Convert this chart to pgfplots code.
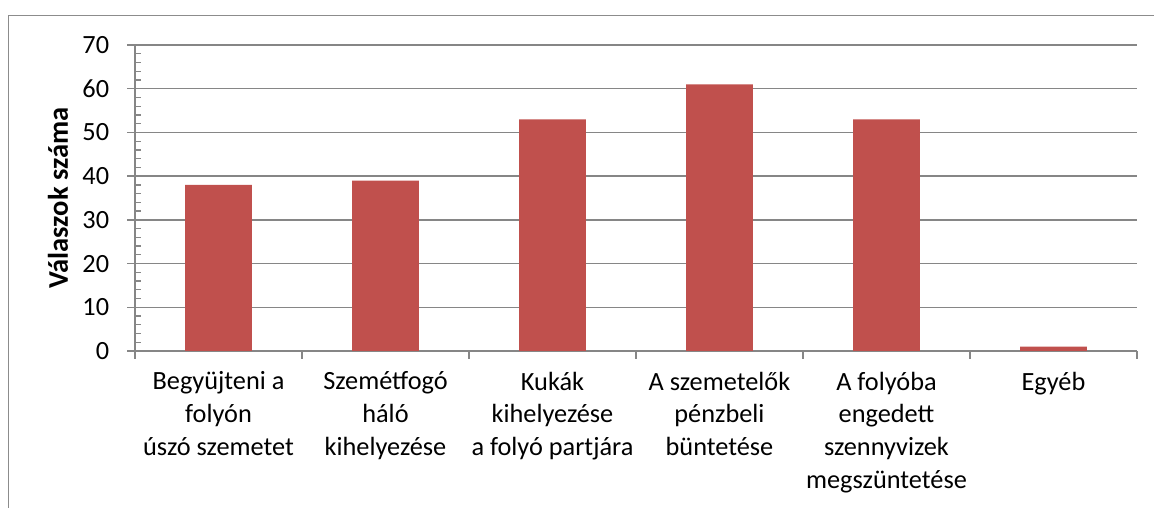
\documentclass[border=0pt]{standalone}
\usepackage{pgfplots}
\pgfplotsset{compat=1.18}
\usepackage{fontspec}
\setmainfont{Carlito}
\definecolor{barred}{HTML}{C0504D}
\definecolor{gridgray}{HTML}{868686}
\definecolor{framegray}{HTML}{8C8C8C}
\begin{document}
\fontsize{26}{32.5}\selectfont
\begin{tikzpicture}[x=1pt,y=1pt]
\useasboundingbox (0,0) rectangle (1154,508);
\draw[framegray,line width=1.2pt] (8.5,0) -- (8.5,492.5) -- (1154,492.5);
\begin{axis}[
  at={(135pt,157pt)}, anchor=south west,
  scale only axis,
  width=1002pt, height=306pt,
  xmin=-0.5, xmax=5.5,
  ymin=0, ymax=70,
  ytick={0,10,...,70},
  minor y tick num=4,
  xtick={-0.5,0.5,1.5,2.5,3.5,4.5,5.5},
  x tick label as interval,
  xticklabels={{Begyüjteni a\\folyón\\úszó szemetet},{Szemétfogó\\háló\\kihelyezése},{Kukák\\kihelyezése\\a folyó partjára},{A szemetelők\\pénzbeli\\büntetése},{A folyóba\\engedett\\szennyvizek\\megszüntetése},{Egyéb}},
  xticklabel style={align=center, font=\fontsize{26.3}{32.7}\selectfont, yshift=-4pt},
  yticklabel style={font=\fontsize{26.3}{32.5}\selectfont, xshift=-9pt},
  /pgf/number format/assume math mode=true,
  axis x line*=bottom, axis y line*=left,
  axis line style={gridgray, line width=1.3pt, -},
  tick align=outside,
  major tick length=8pt,
  minor tick length=6pt,
  every tick/.style={gridgray, line width=1.3pt},
  minor y tick style={xshift=6pt},
  ymajorgrids,
  major grid style={gridgray, line width=1.3pt},
  ylabel={\bfseries Válaszok száma},
  every axis y label/.style={at={(axis description cs:-0.0768,0.5)}, anchor=center, rotate=90, font=\fontsize{28.5}{34}\selectfont},
  ybar, bar width=0.4,
]
\addplot[fill=barred, draw=none] coordinates {(0,38) (1,39) (2,53) (3,61) (4,53) (5,1)};
\end{axis}
\end{tikzpicture}
\end{document}
